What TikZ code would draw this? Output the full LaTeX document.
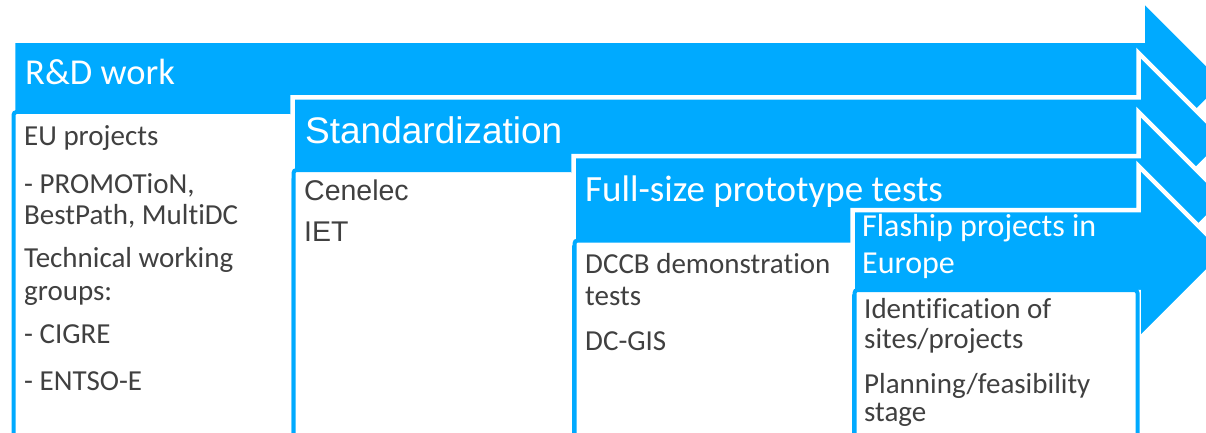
\documentclass[tikz,border=0pt]{standalone}
\usepackage{fontspec}
\setmainfont{Carlito}[Ligatures={NoCommon,NoContextual}]
\newfontfamily\arialfont{Liberation Sans}
\definecolor{azure}{RGB}{0,170,255}
\definecolor{bodytext}{RGB}{64,64,64}
\tikzset{
  stagearrow/.style={fill=azure, draw=white, line width=4.5pt, line join=miter},
  listbox/.style={fill=white, draw=azure, line width=4pt, rounded corners=3pt},
  headtext/.style={anchor=base west, inner sep=0pt, text=white,
    font=\fontsize{36.5}{40}\selectfont},
  smallhead/.style={headtext, font=\fontsize{32}{36}\selectfont},
  itemtext/.style={anchor=base west, inner sep=0pt, text=bodytext,
    font=\fontsize{29}{31}\selectfont},
}
% #1 left, #2 body top, #3 body bottom, #4 head back x, #5 axis y, #6 head half-height
\newcommand{\stageshape}[6]{%
  \path[stagearrow] (#1,#2) -- (#4,#2) -- (#4,{#5-#6}) -- ({#4+#6},#5)
    -- (#4,{#5+#6}) -- (#4,#3) -- (#1,#3) -- cycle;}
\begin{document}
\begin{tikzpicture}[x=1pt,y=-1pt]
\useasboundingbox (0,0) rectangle (1206,433);
\clip (0,0) rectangle (1206,433);

% stage 1: R&D work
\stageshape{13}{40.75}{121}{1142.5}{82.5}{83}
\path[listbox] (13.5,112) rectangle (293.5,470);
\node[headtext] (h1) at (25,85) {R\&D work};
\node[itemtext] (r1) at (24,145) {EU projects};
\node[itemtext] (r2) at (24,193) {- PROMOTioN,};
\node[itemtext] (r3) at (24,224) {BestPath, MultiDC};
\node[itemtext] (r4) at (24,267) {Technical working};
\node[itemtext] (r5) at (24,300) {groups:};
\node[itemtext] (r6) at (24,343) {- CIGRE};
\node[itemtext] (r7) at (24,390) {- ENTSO-E};

% stage 2: Standardization
\stageshape{292.5}{97.5}{176}{1138.5}{140}{87}
\path[listbox] (293.5,170) rectangle (574,470);
\node[headtext, font=\arialfont\fontsize{37}{40}\selectfont] (h2) at (305,143.3) {Standardization};
\node[itemtext, font=\arialfont\fontsize{28.5}{31}\selectfont] (s1) at (304,200) {Cenelec};
\node[itemtext, font=\arialfont\fontsize{28.5}{31}\selectfont] (s2) at (304,241.7) {IET};

% stage 3: prototype tests
\stageshape{573.5}{156}{243}{1138.5}{199}{87}
\path[listbox] (574.5,240.5) rectangle (854,470);
\node[headtext, font=\fontsize{37}{40}\selectfont] (h3) at (585,201.7) {Full-size prototype tests};
\node[itemtext] (p1) at (585,273.3) {DCCB demonstration};
\node[itemtext] (p2) at (585,305) {tests};
\node[itemtext] (p3) at (585,350) {DC-GIS};

% stage 4: flagship projects
\stageshape{852.5}{210}{292}{1138.5}{253}{87}
\path[listbox] (854.5,290) rectangle (1137.5,470);
\node[smallhead] (h4a) at (862,236.7) {Flaship projects in};
\node[smallhead] (h4b) at (862,273.3) {Europe};
\node[itemtext] (f1) at (864,318.3) {Identification of};
\node[itemtext] (f2) at (864,348.3) {sites/projects};
\node[itemtext] (f3) at (864,393.3) {Planning/feasibility};
\node[itemtext] (f4) at (864,421.7) {stage};
\end{tikzpicture}
\end{document}
